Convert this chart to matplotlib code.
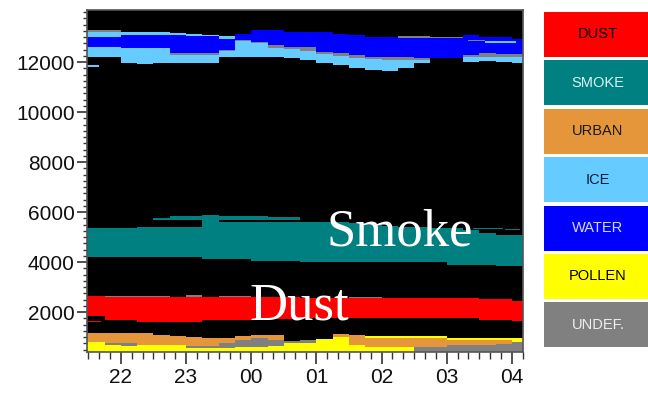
import numpy as np
import matplotlib
matplotlib.use('Agg')
import matplotlib.pyplot as plt
from matplotlib.patches import Rectangle
from matplotlib.ticker import MultipleLocator, FixedLocator

# classes of the target categorization
classes = ['DUST', 'SMOKE', 'URBAN', 'ICE', 'WATER', 'POLLEN', 'UNDEF.']
class_colors = ['#ff0000', '#008080', '#e6963a', '#66ccff', '#0000ff', '#ffff00', '#808080']
label_colors = ['#000000', '#d8f4f4', '#1a1a1a', '#0a1a3a', '#d8d8ff', '#000000', '#eeeeee']
col = dict(zip(classes, class_colors))

# time column edges in hours (24 = 00 UT next day)
t_edges = np.r_[21.48, np.arange(21.75, 28.01, 0.25), 28.17]
hour_ticks = [22, 23, 24, 25, 26, 27, 28]
hour_labels = ['22', '23', '00', '01', '02', '03', '04']
alt_ticks = [2000, 4000, 6000, 8000, 10000, 12000]

# upper cloud (m), one value per column
cld_top = [13300, 13300, 13210, 13210, 13210, 13150, 13120, 13100, 13040, 13120, 13280, 13300, 13210, 13190,
           13190, 13120, 13080, 12990, 12990, 13040, 13040, 12990, 13000, 13080, 13010, 13010, 12920]
ice_hi = [13210, 13210, 13210, 13210, 13210, 13150, 13120, 13100, 13040, 13120, 13280, 13300, 13210, 13190,
          13190, 13120, 13080, 12990, 12990, 12950, 12950, 12950, 12950, 13080, 13010, 13010, 12920]
water_hi = [13010, 13010, 13100, 13100, 13100, 13080, 13060, 13030, 12910, 13120, 13280, 13300, 13210, 13190,
            13190, 13120, 13080, 12990, 12990, 12950, 12950, 12950, 12950, 13080, 13010, 13010, 12920]
water_lo = [12610, 12610, 12550, 12550, 12550, 12370, 12350, 12350, 12480, 12890, 12810, 12680, 12610, 12600,
            12420, 12370, 12280, 12210, 12190, 12190, 12180, 12150, 12150, 12300, 12350, 12340, 12320]
gray_lo = [12610, 12610, 12550, 12550, 12550, 12300, 12300, 12300, 12440, 12840, 12760, 12550, 12540, 12450,
           12330, 12240, 12150, 12110, 12080, 12080, 12080, 12150, 12150, 12200, 12190, 12190, 12200]
ice_lo = [12210, 12210, 11970, 11920, 11970, 11970, 11970, 11980, 12200, 12210, 12210, 12210, 12150, 12080,
          11960, 11880, 11750, 11680, 11650, 11750, 11950, 12150, 12150, 12010, 12050, 12010, 11960]

# smoke layer
smoke_lo = [4190, 4190, 4190, 4190, 4190, 4190, 4190, 4120, 4120, 4120, 4050, 4050, 4050, 4010,
            4010, 3990, 3990, 3990, 3990, 3990, 3990, 3990, 3900, 3900, 3900, 3850, 3850]
smoke_hi = [5350, 5350, 5350, 5410, 5410, 5410, 5410, 5900, 5590, 5590, 5590, 5590, 5600, 5620,
            5620, 5600, 5550, 5500, 5450, 5400, 5400, 5350, 5350, 5300, 5150, 5100, 5100]
smoke2_lo = [0, 0, 0, 0, 5700, 5680, 5680, 5680, 5680, 5680, 5680, 5700, 5700, 0,
             0, 0, 0, 0, 0, 0, 0, 0, 0, 0, 0, 0, 0]
smoke2_hi = [0, 0, 0, 0, 5780, 5840, 5840, 5840, 5840, 5840, 5840, 5800, 5800, 0,
             0, 0, 0, 0, 0, 0, 0, 0, 0, 0, 0, 0, 0]

# dust layer
dust_lo = [1850, 1680, 1680, 1590, 1590, 1590, 1590, 1680, 1680, 1680, 1700, 1720, 1740, 1750,
           1750, 1750, 1750, 1750, 1750, 1750, 1750, 1750, 1750, 1750, 1690, 1690, 1640]
dust_hi = [2650, 2610, 2610, 2610, 2610, 2610, 2610, 2610, 2610, 2610, 2610, 2600, 2590, 2580,
           2580, 2570, 2570, 2570, 2570, 2570, 2570, 2570, 2570, 2570, 2520, 2520, 2450]
dust_gray = [2650, 2650, 2650, 2650, 2650, 2610, 2690, 2610, 2650, 2650, 2610, 2600, 2590, 2580,
             2580, 2570, 2620, 2620, 2570, 2570, 2570, 2570, 2570, 2570, 2520, 2520, 2450]

# boundary layer: tops of undef(bottom), pollen, undef, urban, pollen
bl_gray1 = [400, 400, 400, 400, 400, 400, 400, 400, 400, 400, 400, 400, 400, 400,
            400, 400, 400, 400, 400, 400, 600, 600, 700, 700, 700, 720, 810]
bl_pollen1 = [790, 700, 650, 680, 680, 680, 560, 550, 570, 600, 620, 650, 760, 760,
              920, 1010, 700, 620, 600, 600, 600, 600, 700, 700, 700, 720, 970]
bl_gray2 = [790, 760, 750, 680, 680, 680, 640, 640, 750, 900, 960, 900, 850, 880,
            920, 1010, 700, 620, 600, 600, 600, 600, 700, 700, 700, 720, 970]
bl_urban = [1150, 1150, 1150, 1150, 1100, 1050, 1000, 950, 950, 1040, 1080, 1080, 850, 880,
            920, 1110, 1080, 980, 960, 960, 970, 970, 880, 880, 880, 880, 970]
bl_pollen2 = [1150, 1150, 1150, 1150, 1100, 1050, 1000, 950, 950, 1040, 1080, 1080, 850, 880,
              920, 1110, 1080, 1040, 1040, 1050, 1050, 1050, 950, 950, 950, 950, 970]

# thin isolated streaks
streak_cls = ['ICE', 'DUST', 'ICE', 'UNDEF.', 'SMOKE', 'SMOKE']
streak_t0 = [21.48, 21.50, 27.58, 27.32, 27.40, 27.89]
streak_t1 = [21.67, 21.70, 28.07, 27.58, 27.86, 28.12]
streak_lo = [11820, 1610, 12750, 12860, 5320, 5270]
streak_hi = [11870, 1660, 12850, 12900, 5370, 5310]

fig = plt.figure(figsize=(6.48, 3.96), dpi=100)
ax = fig.add_axes([87/648, 44/396, 436/648, 342/396])
ax.set_facecolor('black')


def band(lo, hi, c):
    lo = np.append(lo, lo[-1])
    hi = np.append(hi, hi[-1])
    ax.fill_between(t_edges, lo, hi, step='post', color=c, lw=0, antialiased=False)


band(ice_hi, cld_top, col['UNDEF.'])
band(water_hi, ice_hi, col['ICE'])
band(water_lo, water_hi, col['WATER'])
band(gray_lo, water_lo, col['UNDEF.'])
band(ice_lo, gray_lo, col['ICE'])

band(smoke_lo, smoke_hi, col['SMOKE'])
band(smoke2_lo, smoke2_hi, col['SMOKE'])

band(dust_lo, dust_hi, col['DUST'])
band(dust_hi, dust_gray, col['UNDEF.'])

base = np.full(len(bl_gray1), 400)
band(base, bl_gray1, col['UNDEF.'])
band(bl_gray1, bl_pollen1, col['POLLEN'])
band(bl_pollen1, bl_gray2, col['UNDEF.'])
band(bl_gray2, bl_urban, col['URBAN'])
band(bl_urban, bl_pollen2, col['POLLEN'])

for c, a, b, lo, hi in zip(streak_cls, streak_t0, streak_t1, streak_lo, streak_hi):
    ax.fill_between([a, b], [lo, lo], [hi, hi], color=col[c], lw=0, antialiased=False)

ax.text(25.16, 4680, 'Smoke', color='white', family='Liberation Serif', fontsize=38,
        ha='left', va='baseline')
ax.text(23.98, 1680, 'Dust', color='white', family='Liberation Serif', fontsize=38,
        ha='left', va='baseline')

ax.set_xlim(t_edges[0], t_edges[-1])
ax.set_ylim(400, 14080)
ax.set_xticks(hour_ticks, hour_labels)
ax.xaxis.set_minor_locator(MultipleLocator(1/6))
ax.yaxis.set_major_locator(FixedLocator(alt_ticks))
ax.yaxis.set_minor_locator(MultipleLocator(250))
ax.tick_params(axis='x', which='major', length=8.5, width=1.2, pad=3, color='#333333')
ax.tick_params(axis='x', which='minor', length=5, width=1.0, color='#333333')
ax.tick_params(axis='y', which='major', length=7, width=1.2, pad=2, color='#333333')
ax.tick_params(axis='y', which='minor', length=3, width=1.0, color='#333333')
for lab in ax.get_xticklabels() + ax.get_yticklabels():
    lab.set_family('Liberation Sans')
    lab.set_fontsize(15)
    lab.set_color('#111111')
for s in ax.spines.values():
    s.set_color('#555555')
    s.set_linewidth(1.2)

# legend boxes on the right
for i, (name, c, tc) in enumerate(zip(classes, class_colors, label_colors)):
    top = 12 + i * 48.4
    fig.add_artist(Rectangle((544/648, 1 - (top + 45)/396), 110/648, 45/396,
                             transform=fig.transFigure, color=c, lw=0))
    fig.text(598/648, 1 - (top + 22.5)/396, name, color=tc, family='Liberation Sans',
             fontsize=10.5, ha='center', va='center')

fig.savefig('out.png', dpi=100)
